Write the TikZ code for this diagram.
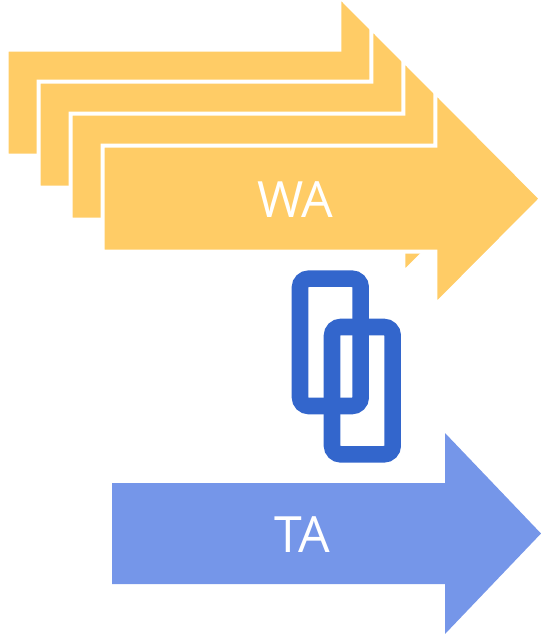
\documentclass[tikz,border=0pt]{standalone}
\usepackage{fontspec}
\setmainfont{Open Sans}
\usepackage{tikz}
\definecolor{wacolor}{HTML}{FFCC66}
\definecolor{tacolor}{HTML}{7596E9}
\definecolor{linkcolor}{HTML}{3366CC}

\begin{document}
\begin{tikzpicture}
  [
    x=.75pt,y=-.75pt,
    wa/.style={fill=wacolor,draw=white,line width=3pt,miter limit=10},
    ta/.style={fill=tacolor},
    chain/.style={draw=linkcolor,line width=12.4pt,rounded corners=6.5pt},
    label/.style={text=white,font=\fontsize{37.5}{37.5}\selectfont,inner sep=0pt},
  ]
    \useasboundingbox (0,0) rectangle (541,634);
    % WA arrows
    \foreach \d in {0,32,64,96}
      \draw [wa,shift={(\d,\d)}] (6.7,49.7) -- (339.3,49.7) -- (339.3,-3.8) -- (445.1,102.7)
        -- (339.3,209.2) -- (339.3,155.7) -- (6.7,155.7) -- cycle;
    \node [label] (wa) at (295.5,199.5) {WA};
    % TA arrow
    \fill [ta] (112,483) -- (445,483) -- (445,433) -- (541,533.5)
      -- (445,634) -- (445,584) -- (112,584) -- cycle;
    \node [label] (ta) at (302,535) {TA};
    % chain links
    \draw [chain] (300,278.7) rectangle (360.7,406);
    \draw [chain] (332,327) rectangle (392.7,454.3);
\end{tikzpicture}
\end{document}
